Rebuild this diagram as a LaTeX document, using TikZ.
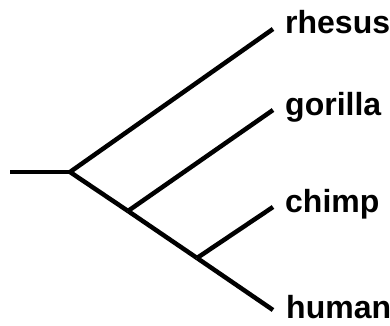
\documentclass[tikz,border=0pt]{standalone}
\usepackage{fontspec}
\setmainfont{Liberation Sans}
\begin{document}
\begin{tikzpicture}[x=1pt,y=-1pt,
  branch/.style={line width=4.5pt,line cap=butt,line join=miter},
  leaflabel/.style={anchor=base west,inner sep=0pt,font=\bfseries\fontsize{32}{32}\selectfont}]
\useasboundingbox (0,0) rectangle (390,325);
\coordinate (start) at (10,172);
\coordinate (root) at (70,172);
\coordinate (n1) at (128,211);
\coordinate (n2) at (197,258);
\coordinate (rh) at (273,29);
\coordinate (go) at (273,110);
\coordinate (ch) at (273,207);
\coordinate (hu) at (273,310);
\node[leaflabel] (lrh) at (285,33) {rhesus};
\node[leaflabel] (lgo) at (285,115) {gorilla};
\node[leaflabel] (lch) at (285,212) {chimp};
\node[leaflabel] (lhu) at (286,318) {human};
\draw[branch] (start) -- (root);
\draw[branch] (root) -- (rh);
\draw[branch] (root) -- (n1);
\draw[branch] (n1) -- (go);
\draw[branch] (n1) -- (n2);
\draw[branch] (n2) -- (ch);
\draw[branch] (n2) -- (hu);
\end{tikzpicture}
\end{document}
